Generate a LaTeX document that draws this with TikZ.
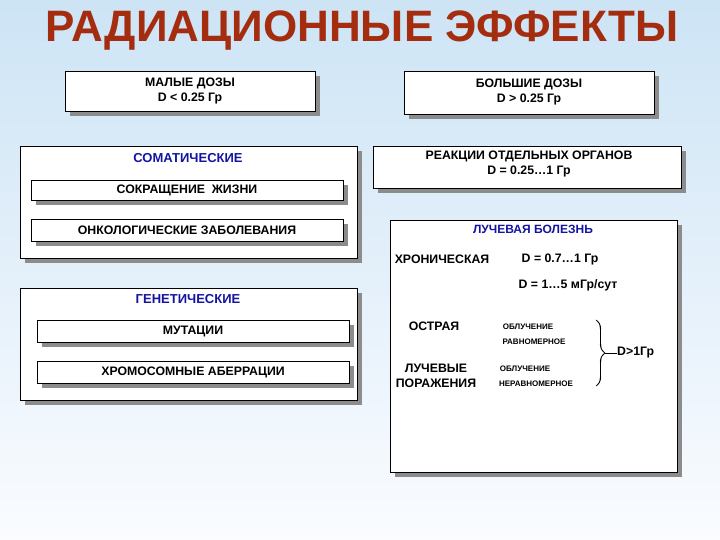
\documentclass[tikz,border=0pt]{standalone}
\usepackage{fontspec}
\setmainfont{Liberation Sans}
\usetikzlibrary{decorations.pathreplacing,calligraphy,shadows}
\definecolor{bgtop}{RGB}{205,228,245}
\definecolor{bgbot}{RGB}{250,252,255}
\definecolor{ttl}{RGB}{165,45,15}
\definecolor{bl}{RGB}{20,20,160}
\tikzset{x=1pt,y=-1pt,
 sbox/.style={draw=black,fill=white,line width=0.8pt,
   drop shadow={shadow xshift=5pt,shadow yshift=-5pt,fill=black!45,opacity=1}},
 tx/.style={font=\bfseries\fontsize{12.3}{14.5}\selectfont,align=center,inner sep=0},
 sm/.style={font=\bfseries\fontsize{8}{9}\selectfont,inner sep=0},
 bt/.style={tx,text=bl,font=\bfseries\fontsize{13}{15}\selectfont}}
\begin{document}
\begin{tikzpicture}
\useasboundingbox (0,0) rectangle (720,540);
\shade[top color=bgtop,bottom color=bgbot] (0,0) rectangle (720,540);
\node (title)[font=\bfseries\fontsize{44}{48}\selectfont,text=ttl] at (362,31) {РАДИАЦИОННЫЕ ЭФФЕКТЫ};
\path[sbox] (65,71) rectangle (315,111);
\node (small)[tx] at (190,91) {МАЛЫЕ ДОЗЫ\\D < 0.25 Гр};
\path[sbox] (404,71) rectangle (654,114);
\node (big)[tx] at (529,92) {БОЛЬШИЕ ДОЗЫ\\D > 0.25 Гр};
\path[sbox] (20,146) rectangle (357,258);
\node (som)[bt] at (188,158) {СОМАТИЧЕСКИЕ};
\path[sbox] (373,146) rectangle (681,188);
\node (reac)[tx] at (529,164) {РЕАКЦИИ ОТДЕЛЬНЫХ ОРГАНОВ\\D = 0.25…1 Гр};
\path[sbox] (31,180) rectangle (343,200);
\node (life)[tx] at (187,190) {СОКРАЩЕНИЕ\ \ ЖИЗНИ};
\path[sbox] (31,219) rectangle (343,241);
\node (onc)[tx] at (187,230) {ОНКОЛОГИЧЕСКИЕ ЗАБОЛЕВАНИЯ};
\path[sbox] (390,220) rectangle (677,472);
\node (lb)[bt,font=\bfseries\fontsize{12}{14}\selectfont] at (533,229) {ЛУЧЕВАЯ БОЛЕЗНЬ};
\node (chr)[tx] at (442,259) {ХРОНИЧЕСКАЯ};
\node (d1)[tx] at (560,259) {D = 0.7…1 Гр};
\node (d2)[tx] at (568,285) {D = 1…5 мГр/сут};
\node (ost)[tx] at (434,326) {ОСТРАЯ};
\node (o1)[sm] at (528,327) {ОБЛУЧЕНИЕ};
\node (o2)[sm] at (534,342) {РАВНОМЕРНОЕ};
\node (lp)[tx,font=\bfseries\fontsize{12.3}{15}\selectfont] at (436,376) {ЛУЧЕВЫЕ\\ПОРАЖЕНИЯ};
\node (o3)[sm] at (525,369) {ОБЛУЧЕНИЕ};
\node (o4)[sm] at (536,384) {НЕРАВНОМЕРНОЕ};
\coordinate (bt) at (596,320);
\coordinate (bb) at (596,386);
\draw[line width=1.2pt,decorate,decoration={calligraphic brace,amplitude=9pt}] (bt) -- (bb);
\node (dg)[tx,anchor=west] at (617,353) {D>1Гр};
\draw[line width=1pt] (605,353) -- (dg.west);
\path[sbox] (20,288) rectangle (357,400);
\node (gen)[bt] at (188,299) {ГЕНЕТИЧЕСКИЕ};
\path[sbox] (37,320) rectangle (349,342);
\node (mut)[tx] at (193,331) {МУТАЦИИ};
\path[sbox] (37,361) rectangle (349,383);
\node (chrom)[tx] at (193,372) {ХРОМОСОМНЫЕ АБЕРРАЦИИ};
\end{tikzpicture}
\end{document}
